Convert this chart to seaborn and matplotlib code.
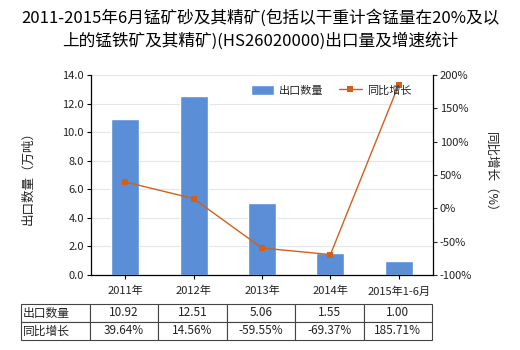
import matplotlib
matplotlib.use("Agg")
import matplotlib.pyplot as plt
import seaborn as sns
import pandas as pd
import numpy as np

categories = ["2011年", "2012年", "2013年", "2014年", "2015年1-6月"]
export_qty = [10.92, 12.51, 5.06, 1.55, 1.00]
growth = [39.64, 14.56, -59.55, -69.37, 185.71]
qty_labels = ["10.92", "12.51", "5.06", "1.55", "1.00"]
growth_labels = ["39.64%", "14.56%", "-59.55%", "-69.37%", "185.71%"]
left_ticks = [0, 2, 4, 6, 8, 10, 12, 14]
right_ticks = [-100, -50, 0, 50, 100, 150, 200]

sns.set_style("white")
plt.rcParams['font.family'] = ['Noto Sans CJK SC', 'DejaVu Sans']
plt.rcParams['axes.unicode_minus'] = False

bar_color = "#5A8ED6"
line_color = "#D2601A"
txt = "#222222"

fig = plt.figure(figsize=(5.2, 3.5), dpi=100)
ax = fig.add_axes([91/520, 1-275/350, 342/520, 200/350])

df = pd.DataFrame({"cat": categories, "qty": export_qty, "g": growth})
sns.barplot(data=df, x="cat", y="qty", color=bar_color, width=0.41, ax=ax,
            saturation=1, label="出口数量")
ax.set_ylim(0, 14)
ax.set_yticks(left_ticks)
ax.set_yticklabels([f"{v:.1f}" for v in left_ticks], fontsize=8, color=txt)
ax.set_xlim(-0.5, 4.5)
ax.set_xticks(range(5))
ax.set_xticklabels(categories, fontsize=8, color=txt)
ax.set_xlabel("")
ax.set_ylabel("出口数量（万吨）", fontsize=9, color=txt, labelpad=20)
ax.grid(axis="y", color="#E3E6EA", lw=0.8)
ax.set_axisbelow(True)
for s in ["top", "right"]:
    ax.spines[s].set_visible(False)
for s in ["left", "bottom"]:
    ax.spines[s].set_color("black")
    ax.spines[s].set_linewidth(0.9)
ax.tick_params(axis="both", length=3, width=0.8, color="black", pad=2, direction="out")
ax.tick_params(axis="y", left=True)
ax.tick_params(axis="x", bottom=True, pad=5)

ax2 = ax.twinx()
sns.lineplot(data=df, x="cat", y="g", color=line_color, lw=1.0, marker="s",
             markersize=4, markeredgewidth=0, ax=ax2, label="同比增长", sort=False)
ax2.set_ylim(-100, 200)
ax2.set_yticks(right_ticks)
ax2.set_yticklabels([f"{v}%" for v in right_ticks], fontsize=8, color=txt)
ax2.set_ylabel("同比增长（%）", fontsize=9, color=txt, rotation=270, labelpad=18)
ax2.set_xlabel("")
for s in ["top", "left", "bottom"]:
    ax2.spines[s].set_visible(False)
ax2.spines["right"].set_color("black")
ax2.spines["right"].set_linewidth(0.9)
ax2.tick_params(axis="y", right=True, length=3, width=0.8, pad=2)
ax2.set_xlim(-0.5, 4.5)

h1, l1 = ax.get_legend_handles_labels()
h2, l2 = ax2.get_legend_handles_labels()
if ax2.get_legend():
    ax2.get_legend().remove()
if ax.get_legend():
    ax.get_legend().remove()
ax2.legend(h1 + h2, l1 + l2, loc="upper left", bbox_to_anchor=(0.44, 1.0),
           ncol=2, frameon=False, fontsize=8, handlelength=2.0, handleheight=1.0,
           columnspacing=1.4, handletextpad=0.5)

# table
cell_text = [["出口数量"] + qty_labels, ["同比增长"] + growth_labels]
tbl = ax.table(cellText=cell_text, cellLoc="center",
               bbox=[(21-91)/342, (275-340)/200, (432-21)/342, 36/200],
               colWidths=[69] + [68.4]*5)
tbl.auto_set_font_size(False)
tbl.set_fontsize(8.5)
for (r, c), cell in tbl.get_celld().items():
    cell.set_edgecolor("#444444")
    cell.set_linewidth(0.8)
    cell.get_text().set_color(txt)
    if c == 0:
        cell.get_text().set_ha("left")
        cell._loc = "left"
        cell.PAD = 0.03

fig.suptitle("2011-2015年6月锰矿砂及其精矿(包括以干重计含锰量在20%及以\n上的锰铁矿及其精矿)(HS26020000)出口量及增速统计",
             fontsize=12, color="black", y=0.975, linespacing=1.45)

fig.savefig("out.png", dpi=100)
